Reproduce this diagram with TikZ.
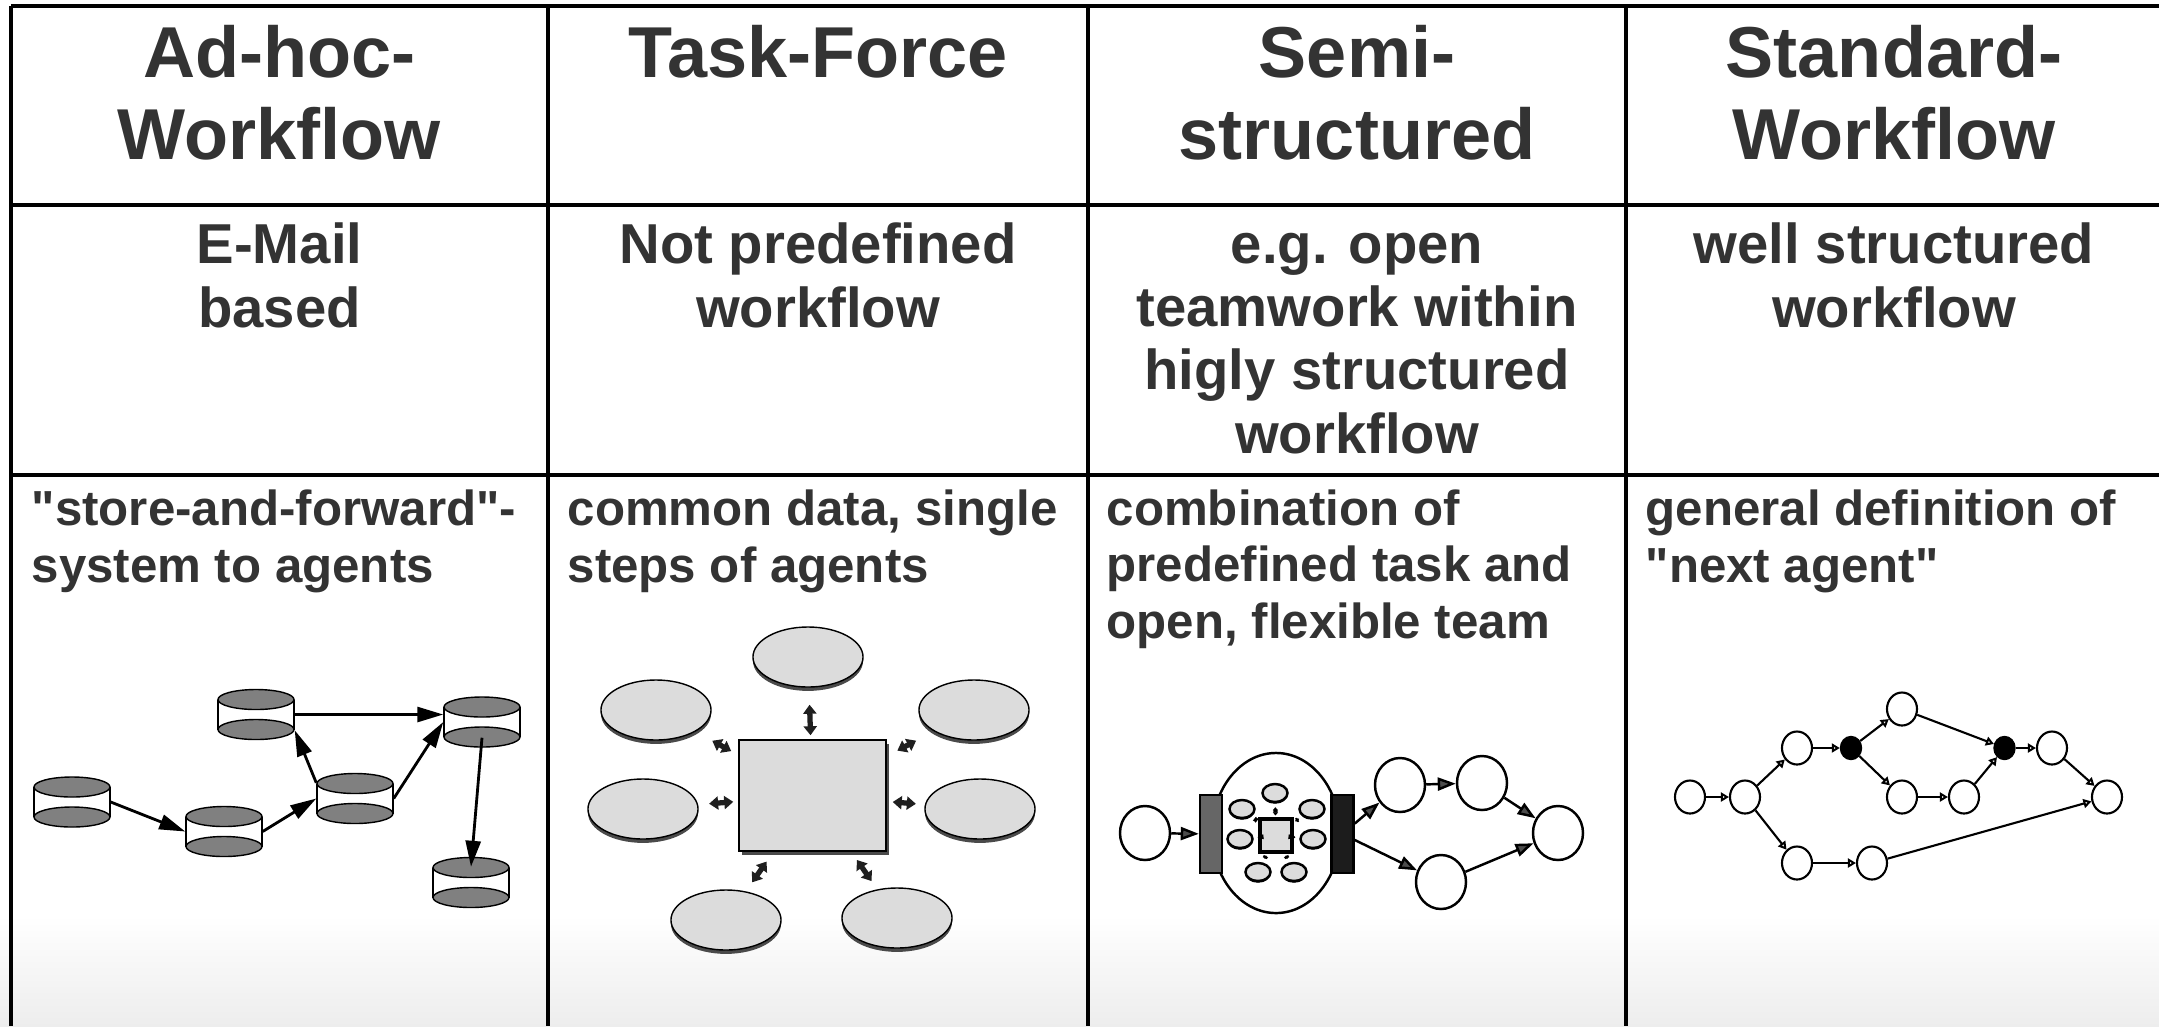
\documentclass[tikz,border=0pt]{standalone}
\usepackage{fontspec}
\setmainfont{Liberation Sans}
\usetikzlibrary{arrows.meta,shapes.geometric,shadows,calc}
\definecolor{txt}{HTML}{333333}
\definecolor{cylgray}{HTML}{808080}
\definecolor{lgray}{HTML}{DCDCDC}
\definecolor{shad}{HTML}{4A4A4A}
\definecolor{transA}{HTML}{666666}
\definecolor{transB}{HTML}{1C1C1C}
\tikzset{
  tableline/.style={line width=0.9pt, draw=black},
  hdr/.style={font=\bfseries\fontsize{20.5}{23.3}\selectfont, text=txt, align=center, anchor=base, inner sep=0pt},
  sub/.style={font=\bfseries\fontsize{16}{18}\selectfont, text=txt, align=center, anchor=base, inner sep=0pt},
  desc/.style={font=\bfseries\fontsize{14}{16}\selectfont, text=txt, align=left, anchor=base west, inner sep=0pt},
  cylnode/.style={rectangle, minimum width=0.76cm, minimum height=0.30cm, inner sep=0pt},
  cylpart/.style={fill=cylgray, draw=black, line width=0.4pt},
  bigarrow/.style={line width=0.8pt, -{Triangle[length=0.26cm,width=0.15cm]}},
  agent/.style={ellipse, draw=black, line width=0.4pt, fill=lgray, minimum width=1.10cm, minimum height=0.60cm, inner sep=0pt,
    drop shadow={shadow xshift=0pt, shadow yshift=-1.1pt, fill=shad, opacity=1}},
  pool/.style={rectangle, draw=black, line width=0.4pt, fill=lgray, minimum width=1.47cm, minimum height=1.11cm, inner sep=0pt,
    drop shadow={shadow xshift=0.85pt, shadow yshift=-1.1pt, fill=shad, opacity=1}},
  dblarrow/.style={line width=1.5pt, draw=black!88, {Triangle[length=0.09cm,width=0.13cm]}-{Triangle[length=0.09cm,width=0.13cm]}},
  petriplace/.style={ellipse, draw=black, line width=0.7pt, fill=white, minimum width=0.50cm, minimum height=0.54cm, inner sep=0pt},
  petritrans/.style={rectangle, draw=black, line width=0.7pt, minimum width=0.22cm, minimum height=0.78cm, inner sep=0pt},
  miniagent/.style={ellipse, draw=black, line width=0.7pt, fill=lgray, minimum width=0.25cm, minimum height=0.18cm, inner sep=0pt,
    drop shadow={shadow xshift=0pt, shadow yshift=-0.5pt, fill=black, opacity=1}},
  minipool/.style={rectangle, draw=black, line width=0.9pt, fill=lgray, minimum width=0.32cm, minimum height=0.33cm, inner sep=0pt},
  miniarrow/.style={line width=1.2pt, {Triangle[length=0.03cm,width=0.05cm]}-{Triangle[length=0.03cm,width=0.05cm]}, shorten <=0.02cm, shorten >=0.04cm},
  petriarrow/.style={line width=0.7pt, -{Triangle[length=0.18cm,width=0.13cm,fill=black!70]}},
  wfnode/.style={ellipse, draw=black, line width=0.6pt, fill=white, minimum width=0.30cm, minimum height=0.33cm, inner sep=0pt},
  wfjoin/.style={ellipse, draw=black, fill=black, minimum width=0.21cm, minimum height=0.23cm, inner sep=0pt},
  wfarrow/.style={line width=0.6pt, -{Triangle[open,length=0.08cm,width=0.09cm]}},
}
\newcommand\cylinderat[3]{%
  \node[cylnode] (#1) at (#2,#3) {};
  \fill[white] (#2,#3) ++(-38,-15) rectangle ++(76,30);
  \draw[cylpart] (#2,#3) ++(0,15) ellipse [x radius=0.38cm, y radius=0.10cm];
  \draw[line width=0.4pt] (#2,#3) ++(-38,-15) -- ++(0,30) (#2,#3) ++(38,-15) -- ++(0,30);
  \draw[cylpart] (#2,#3) ++(0,-15) ellipse [x radius=0.38cm, y radius=0.10cm];
}
\begin{document}
\begin{tikzpicture}[x=0.01cm, y=-0.01cm]
\useasboundingbox (0,0) rectangle (2159,1026);
% background gradient
\shade[top color=white, bottom color=black!7] (0,915) rectangle (2159,1026);
% table
\draw[tableline] (11,6) -- (2159,6);
\draw[tableline] (11,205) -- (2159,205);
\draw[tableline] (11,475) -- (2159,475);
\draw[tableline] (11,6) -- (11,1026);
\draw[tableline] (548,6) -- (548,1026);
\draw[tableline] (1088,6) -- (1088,1026);
\draw[tableline] (1626,6) -- (1626,1026);
% headers (anchor = baseline of last line)
\node[hdr] (h1) at (279.5,159) {Ad-hoc-\\Workflow};
\node[hdr] (h2) at (818,77) {Task-Force};
\node[hdr] (h3) at (1357,159) {Semi-\\structured};
\node[hdr] (h4) at (1894,159) {Standard-\\Workflow};
% second row
\node[sub] (s1) at (279.5,327) {E-Mail\\based};
\node[sub] (s2) at (818,327) {Not predefined\\workflow};
\node[sub] (s3) at (1357,453) {e.g. open\\teamwork within\\higly structured\\workflow};
\node[sub] (s4) at (1894,327) {well structured\\workflow};
% third row
\node[desc] (d1) at (31,582) {\textquotedbl store-and-forward\textquotedbl -\\system to agents};
\node[desc] (d2) at (567,582) {common data, single\\steps of agents};
\node[desc] (d3) at (1106,638) {combination of\\predefined task and\\open, flexible team};
\node[desc] (d4) at (1645,582) {general definition of\\\textquotedbl next agent\textquotedbl};

% ---- Ad-hoc workflow: cylinders
\cylinderat{c1}{72}{802}
\cylinderat{c2}{224}{831.5}
\cylinderat{c3}{256}{714.5}
\cylinderat{c4}{355}{798.5}
\cylinderat{c5}{482}{722}
\cylinderat{c6}{471}{882.5}
\draw[bigarrow] (c1.east) -- (c2.west);
\draw[bigarrow] (c2.east) -- (c4.west);
\draw[bigarrow] (c4.north west) -- (c3.south east);
\draw[bigarrow] (c3.east) -- (c5.west |- c3.east);
\draw[bigarrow] (c4.east) -- (c5.west);
\draw[bigarrow] (c5.south) -- (c6.north);

% ---- Task-Force
\node[agent] (ttop) at (808,657) {};
\node[agent] (tul) at (656,710) {};
\node[agent] (tur) at (974,710) {};
\node[agent] (tml) at (643,809) {};
\node[agent] (tmr) at (980,809) {};
\node[agent] (tbl) at (726,920) {};
\node[agent] (tbr) at (897,918) {};
\node[pool] (tc) at (812.5,795.5) {};
\draw[dblarrow, shorten <=0.04cm, shorten >=0.17cm] (tc) -- (ttop);
\draw[dblarrow, shorten <=0.08cm, shorten >=0.19cm] (tc) -- (tul);
\draw[dblarrow, shorten <=0.12cm, shorten >=0.20cm] (tc) -- (tur);
\draw[dblarrow, shorten <=0.05cm, shorten >=0.11cm] (tc) -- (tml);
\draw[dblarrow, shorten <=0.06cm, shorten >=0.09cm] (tc) -- (tmr);
\draw[dblarrow, shorten <=0.12cm, shorten >=0.11cm] (tc) -- (tbl);
\draw[dblarrow, shorten <=0.10cm, shorten >=0.10cm] (tc) -- (tbr);

% ---- Semi-structured
\node[ellipse, draw=black, line width=0.7pt, fill=white, minimum width=1.28cm, minimum height=1.60cm, inner sep=0pt] (team) at (1276,833) {};
\node[petritrans, fill=transA] (ta) at (1211,834) {};
\node[petritrans, fill=transB] (tb) at (1342.5,834) {};
\node[petriplace] (p0) at (1145,833) {};
\node[petriplace] (pa) at (1400,785) {};
\node[petriplace] (pb) at (1482,783) {};
\node[petriplace] (pc) at (1558,833) {};
\node[petriplace] (pd) at (1441,882) {};
\node[miniagent] (m1) at (1275,793) {};
\node[miniagent] (m2) at (1242,809) {};
\node[miniagent] (m3) at (1312,809) {};
\node[miniagent] (m4) at (1240,839) {};
\node[miniagent] (m5) at (1313,839) {};
\node[miniagent] (m6) at (1258,872) {};
\node[miniagent] (m7) at (1294,872) {};
\node[minipool] (sq) at (1276,835.5) {};
\foreach \m in {m1,m2,m3,m4,m5,m6,m7} \draw[miniarrow] (sq) -- (\m);
\draw[petriarrow] (p0) -- (ta);
\draw[petriarrow] (tb) -- (pa);
\draw[petriarrow] (pa) -- (pb);
\draw[petriarrow] (pb) -- (pc);
\draw[petriarrow] (tb) -- (pd);
\draw[petriarrow] (pd) -- (pc);

% ---- Standard workflow
\node[wfnode] (n1) at (1690,797) {};
\node[wfnode] (n2) at (1745,797) {};
\node[wfnode] (n3) at (1797,748) {};
\node[wfjoin] (n4) at (1851,748) {};
\node[wfnode] (n5) at (1902,709) {};
\node[wfnode] (n6) at (1902,797) {};
\node[wfnode] (n7) at (1964,797) {};
\node[wfjoin] (n8) at (2004.5,748) {};
\node[wfnode] (n9) at (2052,748) {};
\node[wfnode] (n10) at (2107,797) {};
\node[wfnode] (n11) at (1797,863) {};
\node[wfnode] (n12) at (1872,863) {};
\draw[wfarrow] (n1) -- (n2);
\draw[wfarrow] (n2) -- (n3);
\draw[wfarrow] (n2) -- (n11);
\draw[wfarrow] (n3) -- (n4);
\draw[wfarrow] (n4) -- (n5);
\draw[wfarrow] (n4) -- (n6);
\draw[wfarrow] (n5) -- (n8);
\draw[wfarrow] (n6) -- (n7);
\draw[wfarrow] (n7) -- (n8);
\draw[wfarrow] (n8) -- (n9);
\draw[wfarrow] (n9) -- (n10);
\draw[wfarrow] (n11) -- (n12);
\draw[wfarrow] (n12) -- (n10);
\end{tikzpicture}
\end{document}
